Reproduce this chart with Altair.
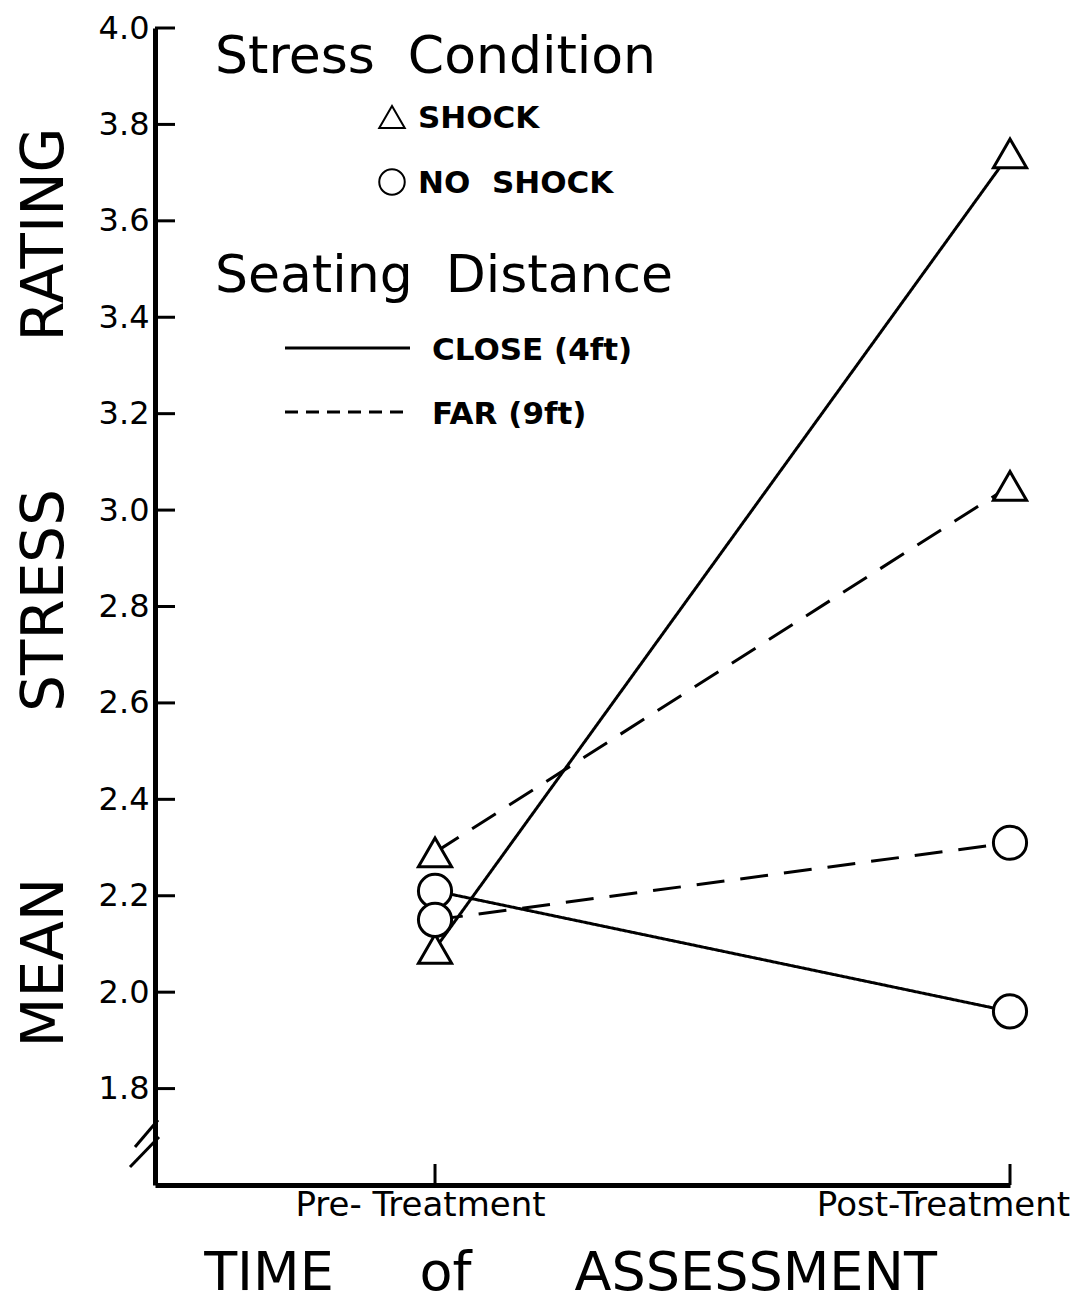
import altair as alt
import pandas as pd

# ---- data ----
time_values = [1, 2]
time_labels = ["Pre- Treatment", "Post-Treatment"]
conditions = ["SHOCK", "SHOCK", "NO SHOCK", "NO SHOCK"]
distances = ["CLOSE (4ft)", "FAR (9ft)", "CLOSE (4ft)", "FAR (9ft)"]
pre_values = [2.09, 2.29, 2.21, 2.15]
post_values = [3.74, 3.05, 1.96, 2.31]
y_ticks = [1.8, 2.0, 2.2, 2.4, 2.6, 2.8, 3.0, 3.2, 3.4, 3.6, 3.8, 4.0]

legend_title_1 = "Stress\u00a0\u00a0Condition"
legend_title_2 = "Seating\u00a0\u00a0Distance"
condition_labels = ["SHOCK", "NO\u00a0\u00a0SHOCK"]
distance_labels = ["CLOSE (4ft)", "FAR (9ft)"]
y_title = "MEAN" + "\u00a0" * 9 + "STRESS" + "\u00a0" * 8 + "RATING"
x_title = "TIME" + "\u00a0" * 5 + "of" + "\u00a0" * 6 + "ASSESSMENT"

rows = []
for i in range(len(conditions)):
    for t, v in zip(time_values, [pre_values[i], post_values[i]]):
        rows.append({"series": i, "condition": conditions[i],
                     "distance": distances[i], "x": t, "y": v})
df = pd.DataFrame(rows)

W, H = 855, 1157
TOP = 20
FONT = "DejaVu Sans"

label_expr = "datum.value == %d ? '%s' : '%s'" % (time_values[0], time_labels[0], time_labels[1])

x_enc = alt.X(
    "x:Q",
    scale=alt.Scale(domain=[0.513, 2.0], nice=False, zero=False),
    axis=alt.Axis(
        values=time_values, labelExpr=label_expr, ticks=False, tickSize=0,
        domainWidth=5, domainColor="black", grid=False,
        labelFont=FONT, labelFontSize=34, labelColor="black", labelLimit=0,
        labelPadding=3, labelFlush=False, labelOverlap=False,
        labelOffset={"condition": {"test": "datum.value == 1", "value": -15}, "value": -67},
        title=x_title, titleFont=FONT, titleFontSize=54, titleFontWeight="normal",
        titleColor="black", titleX=415, titleY=104, titleAlign="center",
        titleBaseline="alphabetic", titleAnchor="start", titleLimit=0,
    ),
)
y_enc = alt.Y(
    "y:Q",
    scale=alt.Scale(domain=[1.6, 4.0], nice=False, zero=False),
    axis=alt.Axis(
        values=y_ticks, format=".1f", ticks=False, tickSize=0,
        domainWidth=5, domainColor="black", grid=False,
        labelFont=FONT, labelFontSize=32, labelColor="black",
        labelPadding=6, labelFlush=False, labelOverlap=False,
        title=y_title, titleFont=FONT, titleFontSize=58, titleFontWeight="normal",
        titleColor="black", titleX=-110, titleY=559, titleAngle=270,
        titleAlign="center", titleBaseline="middle", titleAnchor="start", titleLimit=0,
    ),
)

lines = alt.Chart(df).mark_line(color="black", strokeWidth=3).encode(
    x=x_enc, y=y_enc, detail="series:N",
    strokeDash=alt.StrokeDash(
        "distance:N",
        scale=alt.Scale(domain=distance_labels, range=[[1, 0], [28, 16]]),
        legend=None,
    ),
)

points = alt.Chart(df).mark_point(
    filled=True, fill="white", stroke="black", strokeWidth=3, size=1100, opacity=1
).encode(
    x=x_enc, y=y_enc,
    shape=alt.Shape(
        "condition:N",
        scale=alt.Scale(domain=["SHOCK", "NO SHOCK"], range=["triangle-up", "circle"]),
        legend=None,
    ),
)

ytick_df = pd.DataFrame({"y": y_ticks})
yticks = alt.Chart(ytick_df).mark_rule(color="black", strokeWidth=3).encode(
    y=y_enc, x=alt.value(0), x2=alt.value(20)
)
xtick_df = pd.DataFrame({"x": time_values})
xticks = alt.Chart(xtick_df).mark_rule(color="black", strokeWidth=3).encode(
    x=x_enc, y=alt.value(H), y2=alt.value(H - 21)
)

one = pd.DataFrame({"a": [0]})
dy = 17 - TOP
breaks = [
    alt.Chart(one).mark_rule(color="black", strokeWidth=3).encode(
        x=alt.value(-20), x2=alt.value(3), y=alt.value(1122 + dy), y2=alt.value(1095 + dy)),
    alt.Chart(one).mark_rule(color="black", strokeWidth=3).encode(
        x=alt.value(-25), x2=alt.value(4), y=alt.value(1142 + dy), y2=alt.value(1112 + dy)),
]

def txt(s, x, y, size, weight="normal"):
    return alt.Chart(one).mark_text(
        align="left", baseline="alphabetic", font=FONT, fontSize=size,
        fontWeight=weight, color="black"
    ).encode(x=alt.value(x), y=alt.value(y + dy), text=alt.value(s))

legend = [
    txt(legend_title_1, 60, 48, 52),
    txt(condition_labels[0], 263, 103, 31, "bold"),
    txt(condition_labels[1], 263, 168, 31, "bold"),
    txt(legend_title_2, 60, 267, 52),
    txt(distance_labels[0], 277, 335, 31, "bold"),
    txt(distance_labels[1], 277, 399, 31, "bold"),
    alt.Chart(one).mark_point(shape="triangle-up", size=650, filled=False,
                              color="black", strokeWidth=2, opacity=1).encode(
        x=alt.value(237), y=alt.value(92 + dy)),
    alt.Chart(one).mark_point(shape="circle", size=650, filled=False,
                              color="black", strokeWidth=2, opacity=1).encode(
        x=alt.value(237), y=alt.value(157 + dy)),
    alt.Chart(one).mark_rule(color="black", strokeWidth=3).encode(
        x=alt.value(130), x2=alt.value(255), y=alt.value(323 + dy)),
    alt.Chart(one).mark_rule(color="black", strokeWidth=3, strokeDash=[13, 8]).encode(
        x=alt.value(130), x2=alt.value(255), y=alt.value(387 + dy)),
]

chart = alt.layer(lines, points, yticks, xticks, *breaks, *legend).properties(
    width=W, height=H,
    background="white",
    autosize=alt.AutoSizeParams(type="none"),
    padding={"left": 147, "top": TOP, "right": 60, "bottom": 118},
).configure_view(stroke=None, strokeWidth=0)

chart.save("out.html", embed_options={"renderer": "svg", "actions": False})
